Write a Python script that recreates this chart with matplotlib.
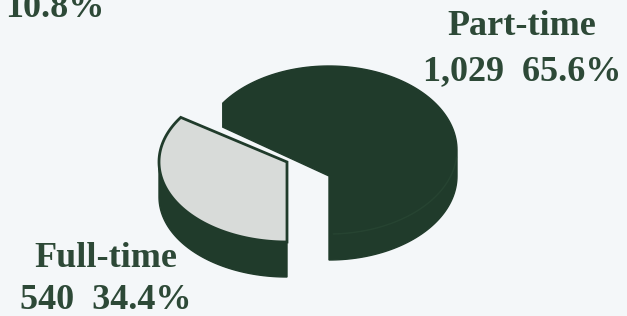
import numpy as np
import matplotlib.pyplot as plt
from matplotlib.patches import Polygon

# 数据
labels = ['Part-time', 'Full-time']
counts = [1029, 540]
pcts = [65.6, 34.4]
stray_label = '10.8%'   # 上一张图被裁掉的标签

BG = '#f4f7f9'
DARK = '#203b2b'
GREY = '#d8dbd9'
TXT = '#2d4937'

R = 128  # 椭圆横半轴（像素）


def rim(cx, cy, ry, a, dy=0.0):
    a = np.radians(a)
    return np.column_stack([cx + R * np.cos(a), cy - ry * np.sin(a) + dy])


fig = plt.figure(figsize=(6.27, 3.16), dpi=100, facecolor=BG)
ax = fig.add_axes([0, 0, 1, 1])
ax.set_xlim(0, 627)
ax.set_ylim(316, 0)
ax.axis('off')
ax.set_facecolor(BG)

# 角度：Full-time 从正下方 (270°) 顺时针展开
span_full = 360.0 * counts[1] / sum(counts)
a_end = 270.0 - span_full

# Part-time（深色，后面）
cx, cy, ry, thick = 329, 150, 84, 26
vertex = (329, 176)
top_arc = rim(cx, cy, ry, np.linspace(a_end, 0, 80))
corner = top_arc[0] + np.array([0, 24])
bot_arc = rim(cx, cy, ry, np.linspace(0, -90, 60), dy=thick)
pts = np.vstack([[vertex], [corner], top_arc, bot_arc])
ax.add_patch(Polygon(pts, closed=True, fc=DARK, ec=DARK, lw=1, zorder=1))
front = rim(cx, cy, ry, np.linspace(-5, -88, 50))
ax.plot(front[:, 0], front[:, 1], color='#2b4a36', lw=1, alpha=0.6, zorder=2)

# Full-time（浅灰，分离出来）
gx, gy, gry, gthick = 287, 162, 80, 35
side_top = rim(gx, gy, gry, np.linspace(180, 270, 60))
side_bot = rim(gx, gy, gry, np.linspace(270, 180, 60), dy=gthick)
ax.add_patch(Polygon(np.vstack([side_top, side_bot]), closed=True,
                     fc=DARK, ec=DARK, lw=1, zorder=3))
face = np.vstack([[[gx, gy]], rim(gx, gy, gry, np.linspace(a_end, 270, 80))])
ax.add_patch(Polygon(face, closed=True, fc=GREY, ec=DARK, lw=2, zorder=4))

# 标签
font = dict(family='Liberation Serif', weight='bold', size=26, color=TXT,
            va='baseline')
ax.text(522, 35, labels[0], ha='center', **font)
ax.text(522, 80, f'{counts[0]:,}  {pcts[0]}%', ha='center', **font)
ax.text(106, 267, labels[1], ha='center', **font)
ax.text(106, 309, f'{counts[1]}  {pcts[1]}%', ha='center', **font)
ax.text(5, 17, stray_label, ha='left', **font)

fig.savefig('out.png', dpi=100, facecolor=BG)
